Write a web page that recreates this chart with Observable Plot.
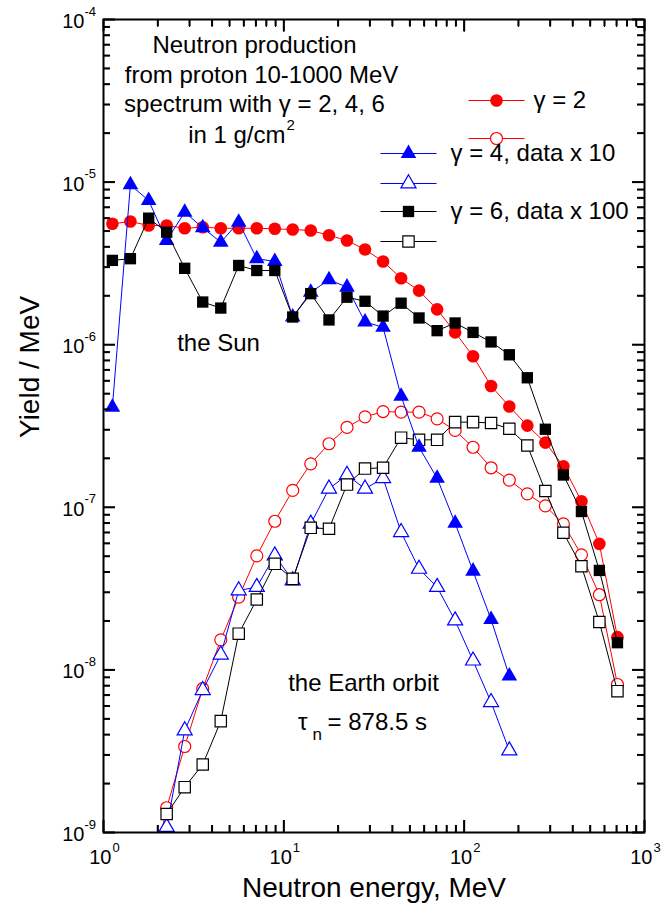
<!DOCTYPE html>
<html><head><meta charset="utf-8">
<script src="https://cdn.jsdelivr.net/npm/d3@7"></script>
<script src="https://cdn.jsdelivr.net/npm/@observablehq/plot@0.6"></script>
<style>
html,body{margin:0;padding:0;background:#fff;}
#chart svg{display:block;font-family:"Liberation Sans",Arial,Helvetica,sans-serif;}
</style></head><body><div id="chart"></div>
<script>
// Neutron energy (MeV) of each point
const energy = [1.12,1.41,1.78,2.24,2.82,3.55,4.47,5.62,7.08,8.91,11.2,14.1,17.8,22.4,28.2,35.5,44.7,56.2,70.8,89.1,112,141,178,224,282,355,447,562,708];
// gamma = 2, the Sun (filled) and the Earth orbit (open)
const sunG2 = [5.54e-6,5.72e-6,5.41e-6,5.41e-6,5.20e-6,5.28e-6,5.20e-6,5.20e-6,5.20e-6,5.16e-6,5.11e-6,5.04e-6,4.71e-6,4.37e-6,3.85e-6,3.25e-6,2.56e-6,2.15e-6,1.65e-6,1.19e-6,8.50e-7,5.57e-7,4.17e-7,3.18e-7,2.50e-7,1.79e-7,1.09e-7,5.96e-8,1.59e-8];
const earthG2 = [null,null,4.3e-10,1.42e-9,3.38e-9,7.66e-9,1.53e-8,2.80e-8,5.03e-8,8.21e-8,1.27e-7,1.85e-7,2.46e-7,3.10e-7,3.60e-7,3.88e-7,3.85e-7,3.85e-7,3.50e-7,2.97e-7,2.34e-7,1.75e-7,1.47e-7,1.21e-7,1.02e-7,7.91e-8,5.10e-8,2.90e-8,8.13e-9];
// gamma = 4 (data x 10)
const sunG4 = [4.13e-7,9.62e-6,7.70e-6,4.37e-6,6.53e-6,5.24e-6,4.27e-6,5.67e-6,3.38e-6,3.25e-6,1.48e-6,2.10e-6,2.51e-6,2.26e-6,1.38e-6,1.28e-6,4.82e-7,2.34e-7,1.51e-7,7.98e-8,4.05e-8,2.04e-8,9.17e-9,null,null,null,null,null,null];
const earthG4 = [null,null,3.0e-10,1.08e-9,4.24e-9,7.50e-9,1.24e-8,3.08e-8,3.23e-8,5.05e-8,3.55e-8,7.91e-8,1.30e-7,1.58e-7,1.30e-7,1.51e-7,7.03e-8,4.18e-8,3.23e-8,2.01e-8,1.14e-8,6.33e-9,3.19e-9,null,null,null,null,null,null];
// gamma = 6 (data x 100)
const sunG6 = [3.30e-6,3.38e-6,6.00e-6,4.92e-6,2.95e-6,1.83e-6,1.68e-6,3.07e-6,2.86e-6,2.86e-6,1.48e-6,2.06e-6,1.42e-6,1.96e-6,1.85e-6,1.50e-6,1.80e-6,1.46e-6,1.22e-6,1.36e-6,1.19e-6,1.04e-6,8.67e-7,6.26e-7,3.02e-7,1.58e-7,9.42e-8,4.09e-8,1.47e-8];
const earthG6 = [null,null,null,1.30e-9,1.90e-9,2.62e-9,4.84e-9,1.67e-8,2.71e-8,4.49e-8,3.63e-8,7.48e-8,7.38e-8,1.38e-7,1.73e-7,1.75e-7,2.68e-7,2.60e-7,2.60e-7,3.34e-7,3.34e-7,3.30e-7,3.04e-7,2.40e-7,1.26e-7,6.97e-8,4.34e-8,1.97e-8,7.40e-9];

// ticks and tick labels
const xMajor = [1,10,100,1000];
const xExp = ["0","1","2","3"];
const xMinor = [2,3,4,5,6,7,8,9,20,30,40,50,60,70,80,90,200,300,400,500,600,700,800,900];
const yMajor = [1e-9,1e-8,1e-7,1e-6,1e-5,1e-4];
const yExp = ["-9","-8","-7","-6","-5","-4"];
const yMinor = [2e-9,3e-9,4e-9,5e-9,6e-9,7e-9,8e-9,9e-9,2e-8,3e-8,4e-8,5e-8,6e-8,7e-8,8e-8,9e-8,2e-7,3e-7,4e-7,5e-7,6e-7,7e-7,8e-7,9e-7,2e-6,3e-6,4e-6,5e-6,6e-6,7e-6,8e-6,9e-6,2e-5,3e-5,4e-5,5e-5,6e-5,7e-5,8e-5,9e-5];

const legendLabels = ["\u03b3 = 2", "\u03b3 = 4, data x 10", "\u03b3 = 6, data x 100"];

const RED = "#ff0000", BLUE = "#0000ff", BLACK = "#000000";
const rows = (vals) => energy.map((E, i) => ({E, v: vals[i]})).filter(d => d.v != null);

const hline = {draw(ctx) { ctx.moveTo(-28, 0); ctx.lineTo(28, 0); }};
const FS = 24;
const W = 662, H = 917, ML = 103, MR = 18, MT = 19, MB = 85;
const IW = W - ML - MR, IH = H - MT - MB;

function ticks(values, side, len) {
  const s = {stroke: BLACK, strokeWidth: 2};
  if (side === "bottom") return Plot.tickX(values, {x: d => d, insetTop: IH - len, ...s});
  if (side === "top") return Plot.tickX(values, {x: d => d, insetBottom: IH - len, ...s});
  if (side === "left") return Plot.tickY(values, {y: d => d, insetRight: IW - len, ...s});
  return Plot.tickY(values, {y: d => d, insetLeft: IW - len, ...s});
}
function axisTicks(values, side, len) {
  const o = {anchor: side, tickSize: -len, tickFormat: () => "", label: null, stroke: BLACK, strokeWidth: 1.2};
  return (side === "bottom" || side === "top") ? Plot.axisX(values, o) : Plot.axisY(values, o);
}
function line(vals, color) {
  return Plot.line(rows(vals), {x: "E", y: "v", stroke: color, strokeWidth: 1, clip: true});
}
function dots(vals, color, symbol, filled, r) {
  return Plot.dot(rows(vals), {x: "E", y: "v", symbol, r, clip: true,
    fill: filled ? color : "white", stroke: filled ? "none" : color, strokeWidth: 1.2});
}
function legendEntry(dx, dy, color, symbol, filled, r) {
  return [
    Plot.dot([0], {frameAnchor: "top-left", dx, dy, symbol: hline, stroke: color, fill: "none", strokeWidth: 1}),
    Plot.dot([0], {frameAnchor: "top-left", dx, dy, symbol, r, fill: filled ? color : "white",
      stroke: filled ? "none" : color, strokeWidth: 1.2})
  ];
}
function note(text, dx, dy, opts = {}) {
  return Plot.text([text], {frameAnchor: "top-left", dx, dy, fontSize: FS, fill: BLACK,
    textAnchor: "middle", lineAnchor: "middle", ...opts});
}

const chart = Plot.plot({
  width: W, height: H,
  marginLeft: ML, marginRight: MR, marginTop: MT, marginBottom: MB,
  style: {fontFamily: "Liberation Sans, Arial, Helvetica, sans-serif", background: "white", overflow: "visible"},
  x: {type: "log", domain: [1, 1000], axis: null},
  y: {type: "log", domain: [1e-9, 1e-4], axis: null},
  marks: [
    // series: earth orbit (open) then the Sun (filled)
    line(earthG2, RED), dots(earthG2, RED, "circle", false, 6),
    line(earthG4, BLUE), dots(earthG4, BLUE, "triangle", false, 5.6),
    line(earthG6, BLACK), dots(earthG6, BLACK, "square", false, 6.4),
    line(sunG2, RED), dots(sunG2, RED, "circle", true, 6.3),
    line(sunG4, BLUE), dots(sunG4, BLUE, "triangle", true, 5.8),
    line(sunG6, BLACK), dots(sunG6, BLACK, "square", true, 6.4),
    // ticks on all four sides, pointing inwards
    ticks(xMajor, "bottom", 12), ticks(xMinor, "bottom", 7),
    ticks(xMajor, "top", 12), ticks(xMinor, "top", 7),
    ticks(yMajor, "left", 12), ticks(yMinor, "left", 7),
    ticks(yMajor, "right", 12), ticks(yMinor, "right", 7),
    axisTicks(xMajor, "bottom", 12), axisTicks(xMinor, "bottom", 7),
    axisTicks(xMajor, "top", 12), axisTicks(xMinor, "top", 7),
    axisTicks(yMajor, "left", 12), axisTicks(yMinor, "left", 7),
    axisTicks(yMajor, "right", 12), axisTicks(yMinor, "right", 7),
    Plot.frame({stroke: BLACK, strokeWidth: 2}),
    // tick labels
    Plot.text(xMajor, {x: d => d, text: () => "10", frameAnchor: "bottom", dy: 25, dx: 8, textAnchor: "end", fontSize: 20, lineAnchor: "middle"}),
    Plot.text(xMajor, {x: d => d, text: (d, i) => xExp[i], frameAnchor: "bottom", dy: 15, dx: 9, textAnchor: "start", fontSize: 13, lineAnchor: "middle"}),
    Plot.text(yMajor, {y: d => d, text: () => "10", frameAnchor: "left", dx: -19, dy: 2, textAnchor: "end", fontSize: 20, lineAnchor: "middle"}),
    Plot.text(yMajor, {y: d => d, text: (d, i) => yExp[i], frameAnchor: "left", dx: -19, dy: -8, textAnchor: "start", fontSize: 13, lineAnchor: "middle"}),
    // axis titles
    Plot.text(["Neutron energy, MeV"], {frameAnchor: "bottom", dy: 56, fontSize: 28, lineAnchor: "middle"}),
    Plot.text(["Yield / MeV"], {frameAnchor: "left", dx: -73, dy: 12, rotate: -90, fontSize: 28, lineAnchor: "middle"}),
    // annotations
    note("Neutron production", 151, 26),
    note("from proton 10-1000 MeV", 158, 56),
    note("spectrum with \u03b3 = 2, 4, 6", 151, 85),
    note("in 1 g/cm", 182, 116, {textAnchor: "end"}),
    note("2", 183, 106, {textAnchor: "start", fontSize: 15}),
    note("the Sun", 115, 324),
    note("the Earth orbit", 260, 664),
    note("\u03c4", 204, 703, {textAnchor: "end"}),
    note("n", 209, 715, {textAnchor: "start", fontSize: 17}),
    note("= 878.5 s", 224, 703, {textAnchor: "start"}),
    // legend
    ...legendEntry(393, 81, RED, "circle", true, 6.3),
    ...legendEntry(393, 119, RED, "circle", false, 6),
    ...legendEntry(305, 134, BLUE, "triangle", true, 5.8),
    ...legendEntry(305, 164, BLUE, "triangle", false, 5.6),
    ...legendEntry(305, 192, BLACK, "square", true, 6.4),
    ...legendEntry(305, 222, BLACK, "square", false, 6.4),
    note(legendLabels[0], 430, 81, {textAnchor: "start"}),
    note(legendLabels[1], 347, 134, {textAnchor: "start"}),
    note(legendLabels[2], 347, 192, {textAnchor: "start"})
  ]
});
document.getElementById("chart").appendChild(chart);
</script></body></html>
